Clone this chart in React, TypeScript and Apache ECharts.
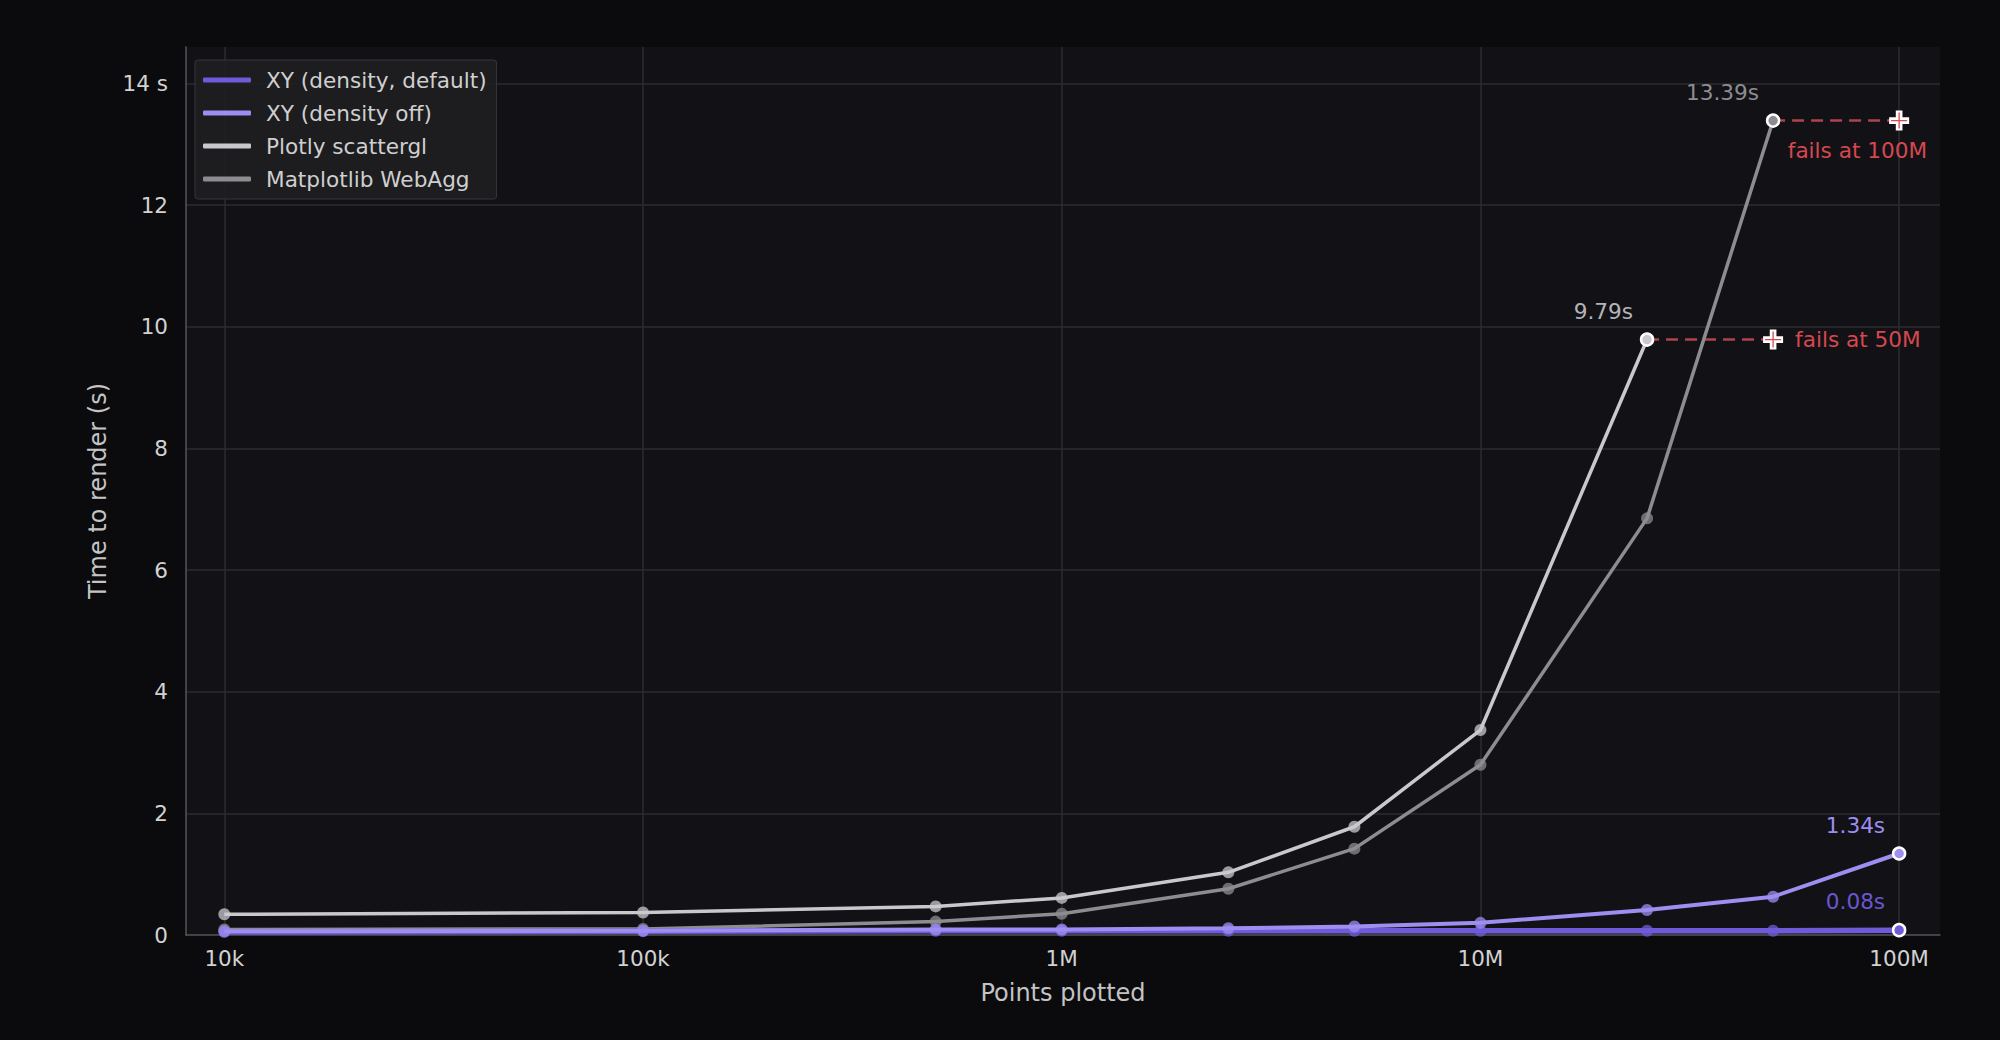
import React, { useEffect, useRef } from "react";
import * as echarts from "echarts";

const pointsPlotted = [1e4, 1e5, 5e5, 1e6, 2.5e6, 5e6, 1e7, 2.5e7, 5e7, 1e8];
const xyDensityDefault = [0.05, 0.06, 0.07, 0.07, 0.07, 0.07, 0.07, 0.07, 0.07, 0.08];
const xyDensityOff = [0.06, 0.07, 0.09, 0.09, 0.11, 0.14, 0.2, 0.41, 0.63, 1.34];
const plotlyScattergl = [0.34, 0.37, 0.47, 0.61, 1.03, 1.78, 3.37, 9.79];
const matplotlibWebAgg = [0.09, 0.1, 0.22, 0.35, 0.76, 1.42, 2.8, 6.85, 13.39];

const seriesNames = ["XY (density, default)", "XY (density off)", "Plotly scattergl", "Matplotlib WebAgg"];
const seriesColors = ["#6e5bd8", "#9e8ef2", "#c9c9cd", "#8d8d91"];
const endLabels = ["0.08s", "1.34s", "9.79s", "13.39s"];
const endLabelColors = ["#6a57cf", "#9d8df0", "#b4b4b8", "#8d8d91"];

const failPoints: [number, number][] = [
  [5e7, 9.79],
  [1e8, 13.39],
];
const failLabels = ["fails at 50M", "fails at 100M"];

const xTickValues = [1e4, 1e5, 1e6, 1e7, 1e8];
const xTickLabels = ["10k", "100k", "1M", "10M", "100M"];
const yTickValues = [0, 2, 4, 6, 8, 10, 12, 14];
const yTickLabels = ["0", "2", "4", "6", "8", "10", "12", "14 s"];

const FONT = "DejaVu Sans";

function buildSeries(idx: number, values: number[], width: number, z: number) {
  const color = seriesColors[idx];
  const last = values.length - 1;
  const data = values.map((v, i) => {
    const pt: any = { value: [pointsPlotted[i], v] };
    if (i === last) {
      pt.symbolSize = 12;
      pt.itemStyle = { color: color, opacity: 1, borderColor: "#ffffff", borderWidth: 2.5 };
      pt.label = {
        show: true,
        formatter: endLabels[idx],
        position: "top",
        align: "right",
        distance: 0,
        offset: [-14, -10],
        color: endLabelColors[idx],
        fontSize: 21.6,
        fontFamily: FONT,
      };
    }
    return pt;
  });
  return {
    name: seriesNames[idx],
    type: "line",
    z,
    data,
    symbol: "circle",
    symbolSize: 12,
    showAllSymbol: true,
    lineStyle: { color, width },
    itemStyle: { color, opacity: 0.75 },
    emphasis: { disabled: true },
  };
}

export default function App() {
  const ref = useRef<HTMLDivElement>(null);
  useEffect(() => {
    if (!ref.current) return;
    const chart = echarts.init(ref.current, null, { renderer: "svg" });

    const failLine = (from: [number, number], to: [number, number]) => ({
      type: "line",
      z: 1,
      data: [from, to],
      symbol: "none",
      lineStyle: { color: "#b0434b", width: 2.5, type: [12, 7] },
      silent: true,
    });

    const option: any = {
      animation: false,
      backgroundColor: "#0b0b0e",
      textStyle: { fontFamily: FONT },
      grid: {
        left: 186,
        right: 60,
        top: 47,
        bottom: 105,
        show: true,
        backgroundColor: "#121216",
        borderWidth: 0,
      },
      legend: {
        data: seriesNames.map((n, i) => ({
          name: n,
          itemStyle: { color: seriesColors[i], opacity: 1 },
        })),
        orient: "vertical",
        left: 195,
        top: 60,
        padding: [9, 10, 9, 8],
        itemGap: 11,
        itemWidth: 48,
        itemHeight: 5,
        icon: "roundRect",
        backgroundColor: "rgba(30,30,34,0.92)",
        borderColor: "#35353a",
        borderWidth: 1,
        borderRadius: 3,
        selectedMode: false,
        textStyle: { color: "#cfcfcf", fontSize: 21.6, fontFamily: FONT, padding: [0, 0, 0, 10] },
      },
      xAxis: {
        type: "log",
        logBase: 10,
        min: 8100,
        max: 1.252e8,
        name: "Points plotted",
        nameLocation: "middle",
        nameGap: 46,
        nameTextStyle: { color: "#c4c4c4", fontSize: 24, fontFamily: FONT },
        axisLine: { show: true, lineStyle: { color: "#56565a", width: 1.5 } },
        axisTick: { show: false },
        axisLabel: {
          color: "#d2d2d2",
          fontSize: 21.5,
          fontFamily: FONT,
          margin: 12,
          showMinLabel: false,
          showMaxLabel: false,
          formatter: (v: number) => {
            const i = xTickValues.findIndex((t) => Math.abs(Math.log10(v) - Math.log10(t)) < 1e-6);
            return i >= 0 ? xTickLabels[i] : "";
          },
        },
        splitLine: {
          show: true,
          showMinLine: false,
          showMaxLine: false,
          lineStyle: { color: "#2c2c31", width: 1.5 },
        },
      },
      yAxis: {
        type: "value",
        min: 0,
        max: 14.6,
        interval: 2,
        name: "Time to render (s)",
        nameLocation: "middle",
        nameGap: 76,
        nameTextStyle: { color: "#c4c4c4", fontSize: 24, fontFamily: FONT },
        axisLine: { show: true, lineStyle: { color: "#56565a", width: 1.5 } },
        axisTick: { show: false },
        axisLabel: {
          color: "#d2d2d2",
          fontSize: 21.5,
          fontFamily: FONT,
          margin: 18,
          showMaxLabel: false,
          formatter: (v: number) => {
            const i = yTickValues.indexOf(Math.round(v * 1000) / 1000);
            return i >= 0 ? yTickLabels[i] : "";
          },
        },
        splitLine: {
          show: true,
          showMinLine: false,
          showMaxLine: false,
          lineStyle: { color: "#2c2c31", width: 1.5 },
        },
      },
      series: [
        failLine([2.5e7, 9.79], failPoints[0]),
        failLine([5e7, 13.39], failPoints[1]),
        buildSeries(3, matplotlibWebAgg, 3.5, 2),
        buildSeries(2, plotlyScattergl, 3.5, 3),
        buildSeries(0, xyDensityDefault, 5.5, 4),
        buildSeries(1, xyDensityOff, 4, 5),
        {
          type: "scatter",
          z: 6,
          silent: true,
          symbol: "path://M1,0H2V1H3V2H2V3H1V2H0V1H1Z",
          symbolSize: 20,
          itemStyle: { color: "#ffffff", opacity: 1 },
          data: [
            {
              value: failPoints[0],
              label: {
                show: true,
                formatter: failLabels[0],
                position: "right",
                distance: 12,
                color: "#d6474f",
                fontSize: 21.6,
                fontFamily: FONT,
              },
            },
            {
              value: failPoints[1],
              label: {
                show: true,
                formatter: failLabels[1],
                position: "bottom",
                align: "right",
                distance: 9,
                offset: [28, 0],
                color: "#d6474f",
                fontSize: 21.6,
                fontFamily: FONT,
              },
            },
          ],
        },
        {
          type: "scatter",
          z: 7,
          silent: true,
          symbol: "path://M0,0.46H1V0.54H0Z M0.46,0H0.54V1H0.46Z",
          symbolSize: 16,
          itemStyle: { color: "#d6474f", opacity: 1 },
          data: failPoints,
        },
      ],
    };
    chart.setOption(option);
    return () => chart.dispose();
  }, []);

  return (
    <div
      ref={ref}
      style={{ position: "fixed", left: 0, top: 0, width: 2000, height: 1040, background: "#0b0b0e" }}
    />
  );
}
